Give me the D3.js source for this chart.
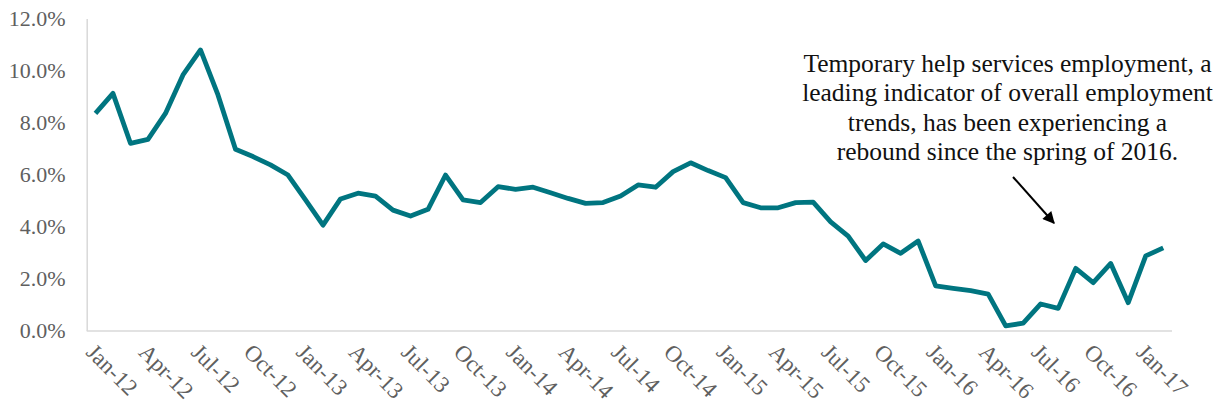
<!DOCTYPE html>
<html>
<head>
<meta charset="utf-8">
<script src="https://cdn.jsdelivr.net/npm/d3@7"></script>
<style>
  html, body { margin: 0; padding: 0; background: #fff; }
  svg { display: block; }
  .axis text { font-family: "Liberation Serif", "DejaVu Serif", serif; fill: #5f5f5f; }
  .note { font-family: "Liberation Serif", "DejaVu Serif", serif; fill: #111; }
</style>
</head>
<body>
<svg id="chart" width="1224" height="414"></svg>
<script>
// Monthly year-over-year growth in temporary help services employment (%)
const months = [
  "Jan-12","Feb-12","Mar-12","Apr-12","May-12","Jun-12","Jul-12","Aug-12","Sep-12","Oct-12","Nov-12","Dec-12",
  "Jan-13","Feb-13","Mar-13","Apr-13","May-13","Jun-13","Jul-13","Aug-13","Sep-13","Oct-13","Nov-13","Dec-13",
  "Jan-14","Feb-14","Mar-14","Apr-14","May-14","Jun-14","Jul-14","Aug-14","Sep-14","Oct-14","Nov-14","Dec-14",
  "Jan-15","Feb-15","Mar-15","Apr-15","May-15","Jun-15","Jul-15","Aug-15","Sep-15","Oct-15","Nov-15","Dec-15",
  "Jan-16","Feb-16","Mar-16","Apr-16","May-16","Jun-16","Jul-16","Aug-16","Sep-16","Oct-16","Nov-16","Dec-16",
  "Jan-17","Feb-17"
];
const growth = [
  8.35, 9.12, 7.20, 7.35, 8.35, 9.83, 10.79, 9.06, 6.97, 6.69, 6.37, 5.98,
  5.02, 4.05, 5.06, 5.28, 5.17, 4.63, 4.40, 4.66, 5.98, 5.02, 4.92, 5.53,
  5.43, 5.51, 5.30, 5.08, 4.89, 4.92, 5.17, 5.60, 5.51, 6.11, 6.45, 6.15,
  5.88, 4.92, 4.72, 4.72, 4.92, 4.94, 4.18, 3.63, 2.69, 3.33, 2.97, 3.44,
  1.72, 1.62, 1.53, 1.40, 0.18, 0.28, 1.02, 0.85, 2.39, 1.84, 2.58, 1.07,
  2.87, 3.18
];
const yTicks = [0, 2, 4, 6, 8, 10, 12];
const xTickLabels = months.filter((m, i) => i % 3 === 0);
const noteLines = [
  "Temporary help services employment, a",
  "leading indicator of overall employment",
  "trends, has been experiencing a",
  "rebound since the spring of 2016."
];

const svg = d3.select("#chart");
const plotLeft = 86.7, plotRight = 1172, plotTop = 18.5, plotBottom = 330.5;

const x = d3.scalePoint().domain(months).range([plotLeft, plotRight]).padding(0.5);
const y = d3.scaleLinear().domain([0, 12]).range([plotBottom, plotTop]);

// Y axis
const yAxis = svg.append("g")
  .attr("class", "axis")
  .attr("transform", `translate(${plotLeft},0)`)
  .call(d3.axisLeft(y).tickValues(yTicks).tickSize(0).tickPadding(21)
    .tickFormat(d => d.toFixed(1) + "%"));
yAxis.select(".domain").attr("stroke", "#d9d9d9").attr("stroke-width", 1.5);
yAxis.selectAll("text").attr("font-size", 22).attr("dy", "0.34em");

// X axis
const xAxis = svg.append("g")
  .attr("class", "axis")
  .attr("transform", `translate(0,${plotBottom})`)
  .call(d3.axisBottom(x).tickValues(xTickLabels).tickSize(0).tickSizeOuter(0));
xAxis.select(".domain").attr("stroke", "#d9d9d9").attr("stroke-width", 1.5)
  .attr("d", `M${plotLeft},0.5H${plotRight}`);
xAxis.selectAll("text")
  .attr("font-size", 23)
  .attr("text-anchor", "start")
  .attr("dy", null)
  .attr("y", 0)
  .attr("transform", "translate(-11,23) rotate(45)");

// Series line
const line = d3.line()
  .x((d, i) => x(months[i]))
  .y(d => y(d));
svg.append("path")
  .datum(growth)
  .attr("fill", "none")
  .attr("stroke", "#007580")
  .attr("stroke-width", 4.8)
  .attr("stroke-linejoin", "round")
  .attr("d", line);

// Annotation
const note = svg.append("text")
  .attr("class", "note")
  .attr("font-size", 25.5)
  .attr("text-anchor", "middle");
note.selectAll("tspan")
  .data(noteLines)
  .join("tspan")
  .attr("x", 1007.5)
  .attr("y", (d, i) => 71.5 + i * 29.5)
  .text(d => d);

// Arrow pointing at the 2016 recovery
const defs = svg.append("defs");
defs.append("marker")
  .attr("id", "arrowhead")
  .attr("viewBox", "0 0 10 10")
  .attr("refX", 9).attr("refY", 5)
  .attr("markerWidth", 7).attr("markerHeight", 6)
  .attr("markerUnits", "strokeWidth")
  .attr("orient", "auto")
  .append("path")
  .attr("d", "M0,0L10,5L0,10Z")
  .attr("fill", "#000");
svg.append("line")
  .attr("x1", 1013).attr("y1", 177)
  .attr("x2", 1054).attr("y2", 223)
  .attr("stroke", "#000")
  .attr("stroke-width", 2)
  .attr("marker-end", "url(#arrowhead)");
</script>
</body>
</html>
